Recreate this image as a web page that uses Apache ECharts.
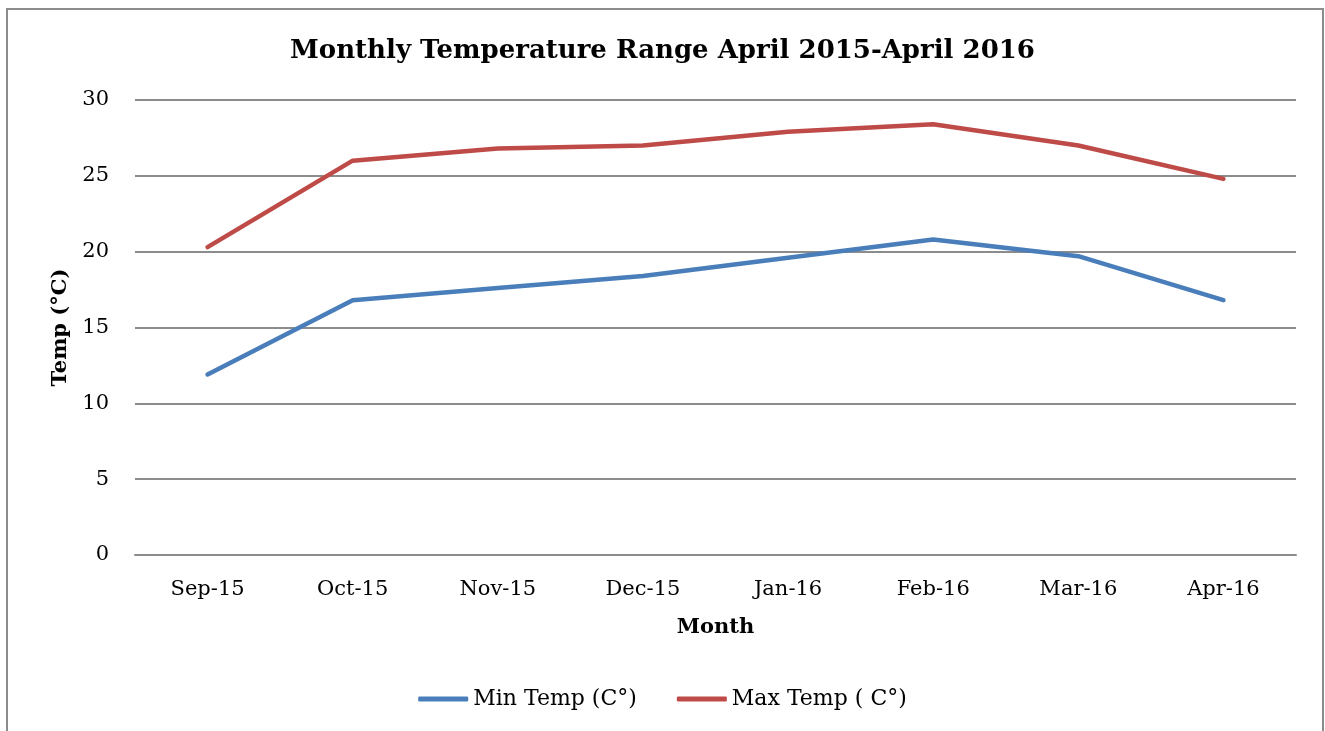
<!DOCTYPE html>
<html lang="en">
<head>
  <meta charset="UTF-8">
  <title>Monthly Temperature Range</title>
  <script src="https://cdn.jsdelivr.net/npm/echarts@6/dist/echarts.min.js"></script>
  <style>
    html, body { margin: 0; padding: 0; background: #fff; overflow: hidden; }
    #frame { position: absolute; left: 6px; top: 8px; width: 1318px; height: 760px; border: 2px solid #8c8c8c; box-sizing: border-box; }
    #main { position: absolute; left: 0; top: 0; width: 1325px; height: 731px; }
  </style>
</head>
<body>
<div id="frame"></div>
<div id="main"></div>
<script>
  var months = ['Sep-15', 'Oct-15', 'Nov-15', 'Dec-15', 'Jan-16', 'Feb-16', 'Mar-16', 'Apr-16'];
  var minTemp = [11.9, 16.8, 17.6, 18.4, 19.6, 20.8, 19.7, 16.8];
  var maxTemp = [20.3, 26.0, 26.8, 27.0, 27.9, 28.4, 27.0, 24.8];

  var font = 'DejaVu Serif';
  var myChart = echarts.init(document.getElementById('main'));

  var option = {
    animation: false,
    title: {
      text: 'Monthly Temperature Range April 2015-April 2016',
      left: 'center',
      top: 33,
      textStyle: { fontFamily: font, fontSize: 26, fontWeight: 'bold', color: '#000' }
    },
    legend: {
      bottom: 16,
      left: 'center',
      itemWidth: 50,
      itemHeight: 5,
      itemGap: 40,
      icon: 'roundRect',
      textStyle: { fontFamily: font, fontSize: 22, color: '#000' },
      data: ['Min Temp (C°)', 'Max Temp ( C°)']
    },
    grid: { left: 135, right: 29, top: 100, bottom: 176, containLabel: false },
    xAxis: {
      type: 'category',
      data: months,
      name: 'Month',
      nameLocation: 'middle',
      nameGap: 62,
      nameTextStyle: { fontFamily: font, fontSize: 21, fontWeight: 'bold', color: '#000' },
      axisLine: { show: true, lineStyle: { color: '#8c8c8c', width: 2 } },
      axisTick: { show: false },
      axisLabel: { fontFamily: font, fontSize: 21, color: '#000', margin: 24 }
    },
    yAxis: {
      type: 'value',
      min: 0,
      max: 30,
      interval: 5,
      name: 'Temp (°C)',
      nameLocation: 'middle',
      nameGap: 64,
      nameRotate: 90,
      nameTextStyle: { fontFamily: font, fontSize: 21, fontWeight: 'bold', color: '#000' },
      axisLine: { show: false },
      axisTick: { show: false },
      axisLabel: { fontFamily: font, fontSize: 21, color: '#000', margin: 26 },
      splitLine: { lineStyle: { color: '#8c8c8c', width: 2 } }
    },
    series: [
      {
        name: 'Min Temp (C°)',
        type: 'line',
        data: minTemp,
        symbol: 'none',
        lineStyle: { color: '#4a7ebb', width: 4.5, cap: 'round' },
        itemStyle: { color: '#4a7ebb' }
      },
      {
        name: 'Max Temp ( C°)',
        type: 'line',
        data: maxTemp,
        symbol: 'none',
        lineStyle: { color: '#be4b48', width: 4.5, cap: 'round' },
        itemStyle: { color: '#be4b48' }
      }
    ]
  };
  myChart.setOption(option);
</script>
</body>
</html>
